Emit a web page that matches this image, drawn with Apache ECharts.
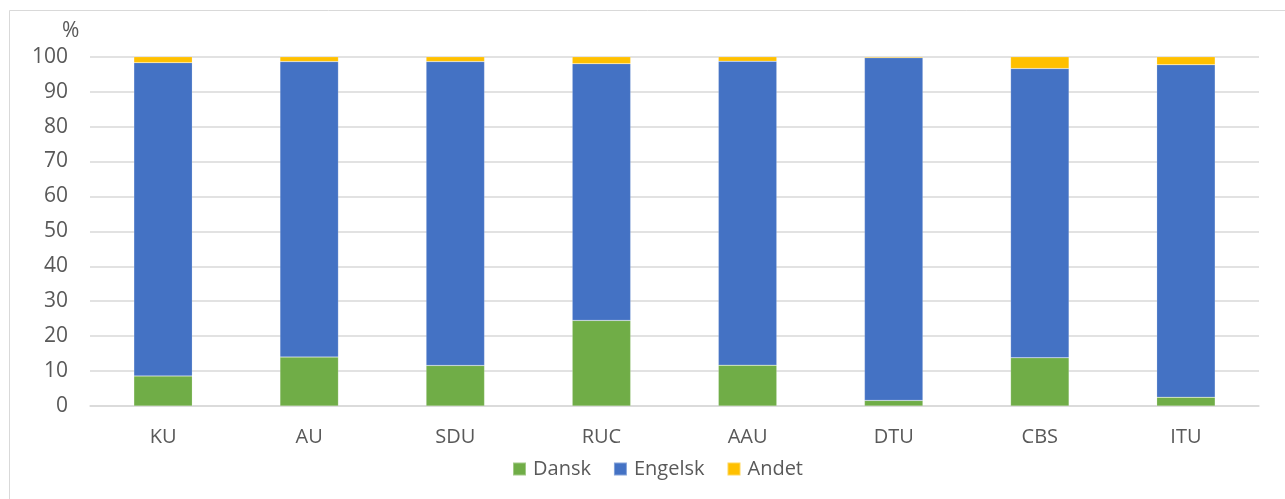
<!DOCTYPE html>
<html>
<head>
<meta charset="utf-8">
<script src="https://cdn.jsdelivr.net/npm/echarts@6/dist/echarts.min.js"></script>
<style>
html,body{margin:0;padding:0;background:#fff;}
#chart{width:1285px;height:499px;}
</style>
</head>
<body>
<div id="chart"></div>
<script>
const categories = ['KU','AU','SDU','RUC','AAU','DTU','CBS','ITU'];
const dansk   = [8.6, 14.0, 11.6, 24.5, 11.7, 1.6, 13.8, 2.5];
const engelsk = [89.7, 84.6, 87.0, 73.5, 87.0, 98.1, 82.8, 95.2];
const andet   = [1.7, 1.4, 1.4, 2.0, 1.3, 0.3, 3.4, 2.3];
const yTicks = { min: 0, max: 100, interval: 10 };

const font = '"Open Sans", "Noto Sans", sans-serif';
const txt = '#595959';
const chart = echarts.init(document.getElementById('chart'), null, {renderer:'canvas'});
const mk = (name, data, color) => ({
  name, type:'bar', stack:'total', data, barWidth:'40%',
  itemStyle:{color, borderColor:'rgba(255,255,255,0.35)', borderWidth:0.5},
  emphasis:{disabled:true}
});
chart.setOption({
  animation:false,
  backgroundColor:'#fff',
  textStyle:{fontFamily:font},
  graphic:[
    {type:'rect', shape:{x:9.5,y:10.5,width:1300,height:520}, style:{fill:'none',stroke:'#D9D9D9',lineWidth:1}, silent:true},
    {type:'text', left:62, top:21, style:{text:'%', font:'21px '+font, fill:txt}}
  ],
  grid:{left:90, right:26, top:56.7, bottom:93, containLabel:false},
  legend:{
    bottom:15, left:507, itemWidth:13, itemHeight:13, itemGap:22,
    icon:'rect',
    textStyle:{color:txt, fontSize:20, fontFamily:font, padding:[0,0,0,2]},
    data:['Dansk','Engelsk','Andet']
  },
  xAxis:{
    type:'category', data:categories,
    axisLine:{lineStyle:{color:'#D9D9D9', width:1.5}},
    axisTick:{show:false},
    axisLabel:{color:txt, fontSize:20, fontFamily:font, margin:21}
  },
  yAxis:{
    type:'value', min:yTicks.min, max:yTicks.max, interval:yTicks.interval,
    axisLine:{show:false}, axisTick:{show:false},
    splitLine:{lineStyle:{color:'#D9D9D9', width:1.5}},
    axisLabel:{color:txt, fontSize:21, fontFamily:font, margin:22}
  },
  series:[
    mk('Dansk', dansk, '#70AD47'),
    mk('Engelsk', engelsk, '#4472C4'),
    mk('Andet', andet, '#FFC000')
  ]
});
</script>
</body>
</html>
